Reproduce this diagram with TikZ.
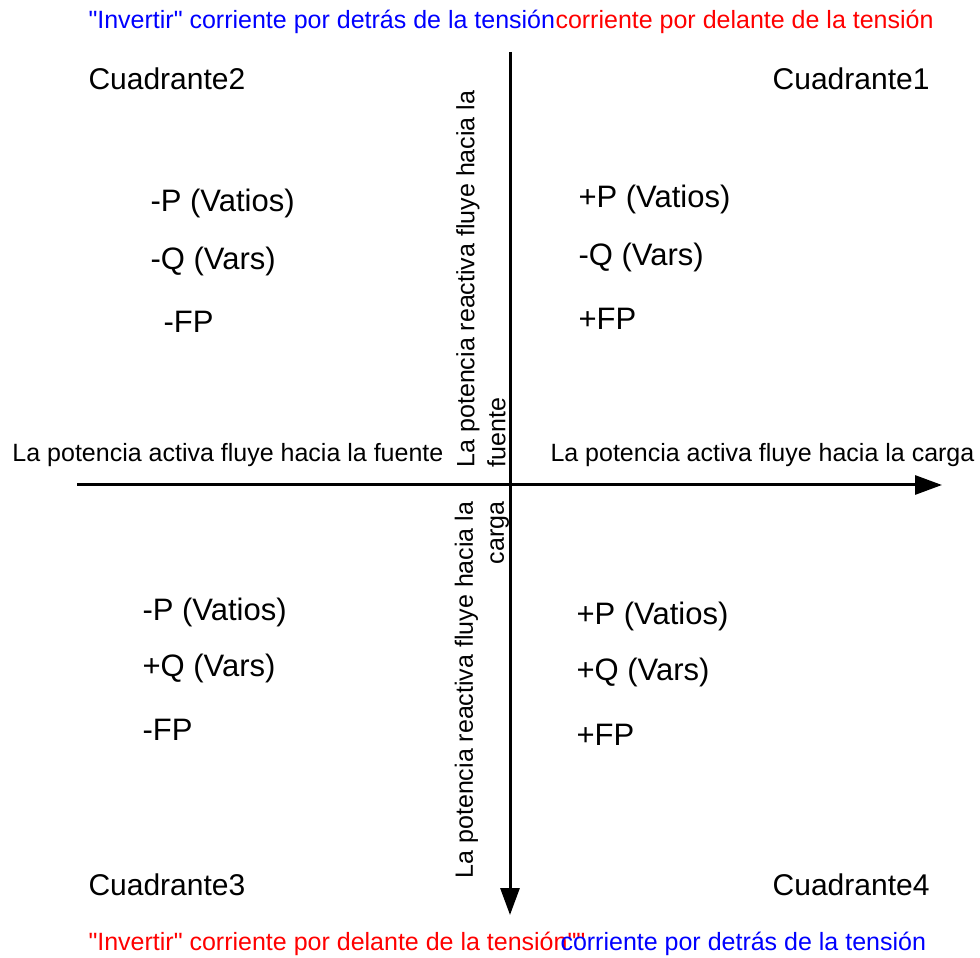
\documentclass[tikz,border=0pt]{standalone}
\usepackage{fontspec}
\setmainfont{Liberation Sans}
\usetikzlibrary{positioning,arrows.meta}
\definecolor{lagblue}{HTML}{0000FF}
\definecolor{leadred}{HTML}{FF0000}
\newcommand{\sq}{\textquotedbl}
\begin{document}
\begin{tikzpicture}[x=0.4pt,y=-0.4pt,
  txt/.style={inner sep=0pt,anchor=base west,font=\fontsize{10}{12.4}\selectfont},
  quad/.style={inner sep=0pt,anchor=base west,font=\fontsize{12}{14}\selectfont},
  item/.style={quad,font=\fontsize{12.4}{14}\selectfont},
  vlab/.style={inner sep=0pt,rotate=90,align=left,font=\fontsize{10}{12.4}\selectfont},
  axis/.style={line width=1.2pt,-{Triangle[length=10.8pt,width=7.6pt]}}]
  \useasboundingbox (0,0) rectangle (980,958);
  % axes
  \coordinate (xl) at (77,485);
  \coordinate (xr) at (942,485);
  \coordinate (yt) at (510,52);
  \coordinate (yb) at (510,915);
  \draw[axis] (xl) -- (xr);
  \draw[axis] (yt) -- (yb);
  % top and bottom captions
  \node[txt,text=lagblue] (toplag) at (88,29) {\sq Invertir\sq{} corriente por detrás de la tensión};
  \node[txt,text=leadred] (toplead) at (555,29) {corriente por delante de la tensión};
  \node[txt,text=leadred] (botlead) at (88,950) {\sq Invertir\sq{} corriente por delante de la tensión\sq\sq};
  \node[txt,text=lagblue] (botlag) at (560,950) {corriente por detrás de la tensión};
  % quadrant names
  \node[quad] (c2) at (88,90) {Cuadrante2};
  \node[quad,anchor=base east] (c1) at (930,90) {Cuadrante1};
  \node[quad] (c3) at (88,895) {Cuadrante3};
  \node[quad,anchor=base east] (c4) at (930,895) {Cuadrante4};
  % quadrant 2
  \node[item] (q2p) at (150,212) {-P (Vatios)};
  \node[item] (q2q) at (150,270) {-Q (Vars)};
  \node[item] (q2f) at (163,333) {-FP};
  % quadrant 1
  \node[item] (q1p) at (578,208) {+P (Vatios)};
  \node[item] (q1q) at (578,266) {-Q (Vars)};
  \node[item] (q1f) at (578,330) {+FP};
  % quadrant 3
  \node[item] (q3p) at (142,620) {-P (Vatios)};
  \node[item] (q3q) at (142,676) {+Q (Vars)};
  \node[item] (q3f) at (142,740) {-FP};
  % quadrant 4
  \node[item] (q4p) at (576,624) {+P (Vatios)};
  \node[item] (q4q) at (576,680) {+Q (Vars)};
  \node[item] (q4f) at (576,745) {+FP};
  % axis labels
  \node[txt] (pfuente) at (12,462) {La potencia activa fluye hacia la fuente};
  \node[txt] (pcarga) at (550,462) {La potencia activa fluye hacia la carga};
  \node[vlab] (qfuente) at (481,279) {La potencia reactiva fluye hacia la\\fuente};
  \node[vlab,align=right] (qcarga) at (482,690) {La potencia reactiva fluye hacia la\\carga};
\end{tikzpicture}
\end{document}
